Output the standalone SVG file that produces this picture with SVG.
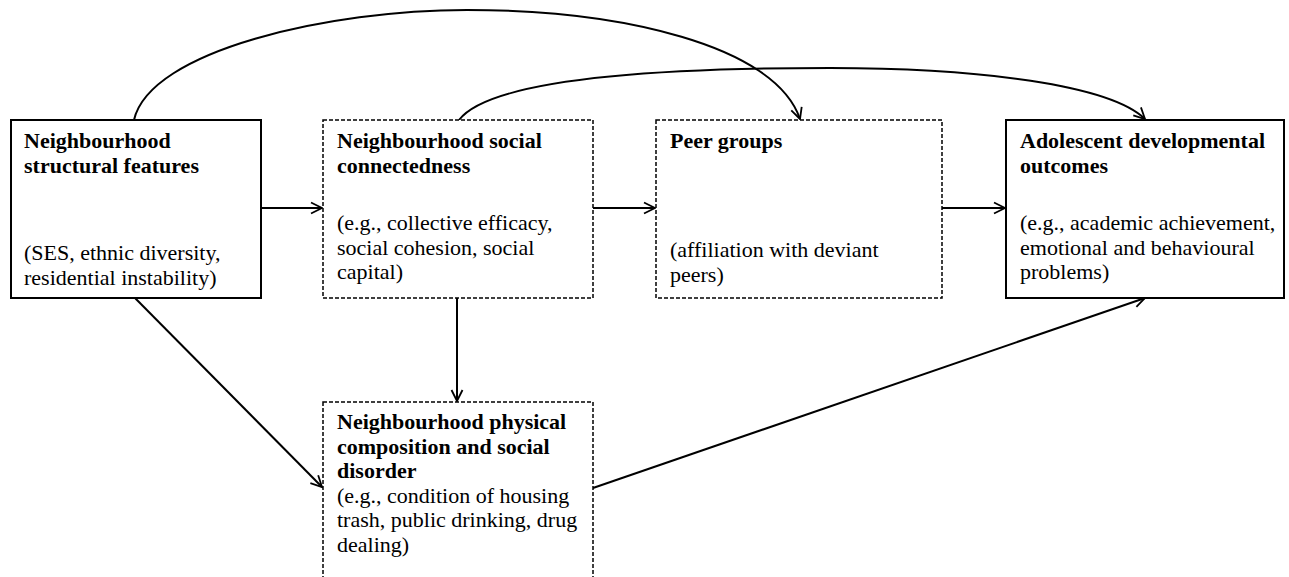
<svg xmlns="http://www.w3.org/2000/svg" width="1289" height="577" viewBox="0 0 1289 577">
<style>
.solid{fill:#fff;stroke:#000;stroke-width:2}
.dash{fill:#fff;stroke:#000;stroke-width:1.5;stroke-dasharray:4 2}
text{font-family:"Liberation Serif","Times New Roman",serif;font-size:22px;fill:#000}
.b{font-weight:bold}
.c{fill:none;stroke:#000;stroke-width:2;marker-end:url(#ah)}
</style>
<defs>
<marker id="ah" markerUnits="userSpaceOnUse" markerWidth="14" markerHeight="14" refX="12" refY="7" orient="auto">
<path d="M1,1.5 L12,7 L1,12.5" fill="none" stroke="#000" stroke-width="1.8"/>
</marker>
</defs>
<g id="connectors">
<line class="c" x1="261" y1="208" x2="322" y2="208"/>
<line class="c" x1="593" y1="208" x2="655" y2="208"/>
<line class="c" x1="942" y1="208" x2="1005" y2="208"/>
<line class="c" x1="457" y1="298" x2="457" y2="401"/>
<line class="c" x1="135" y1="298" x2="322" y2="487"/>
<line class="c" x1="593" y1="488" x2="1145" y2="298"/>
<path class="c" d="M134,120 C150,50 330,10 467,10 C620,10 775,45 800,119"/>
<path class="c" d="M459,120 C490,80 650,68 830,68 C980,68 1110,85 1145,119"/>
</g>
<g id="n1">
<rect class="solid" x="11" y="120" width="250" height="178"/>
<text class="b" x="24" y="148">Neighbourhood</text>
<text class="b" x="24" y="172.5">structural features</text>
<text x="24" y="260">(SES, ethnic diversity,</text>
<text x="24" y="284.5">residential instability)</text>
</g>
<g id="n2">
<rect class="dash" x="323" y="120" width="270" height="178"/>
<text class="b" x="337" y="148">Neighbourhood social</text>
<text class="b" x="337" y="172.5">connectedness</text>
<text x="337" y="230">(e.g., collective efficacy,</text>
<text x="337" y="254.5">social cohesion, social</text>
<text x="337" y="279">capital)</text>
</g>
<g id="n3">
<rect class="dash" x="656" y="120" width="286" height="178"/>
<text class="b" x="670" y="148">Peer groups</text>
<text x="670" y="257">(affiliation with deviant</text>
<text x="670" y="281.5">peers)</text>
</g>
<g id="n4">
<rect class="solid" x="1006" y="120" width="278" height="178"/>
<text class="b" x="1020" y="148">Adolescent developmental</text>
<text class="b" x="1020" y="172.5">outcomes</text>
<text x="1020" y="230">(e.g., academic achievement,</text>
<text x="1020" y="254.5">emotional and behavioural</text>
<text x="1020" y="279">problems)</text>
</g>
<g id="n5">
<rect class="dash" x="323" y="402" width="270" height="200"/>
<text class="b" x="337" y="429">Neighbourhood physical</text>
<text class="b" x="337" y="453.5">composition and social</text>
<text class="b" x="337" y="478">disorder</text>
<text x="337" y="502.5">(e.g., condition of housing</text>
<text x="337" y="527">trash, public drinking, drug</text>
<text x="337" y="551.5">dealing)</text>
</g>
</svg>
